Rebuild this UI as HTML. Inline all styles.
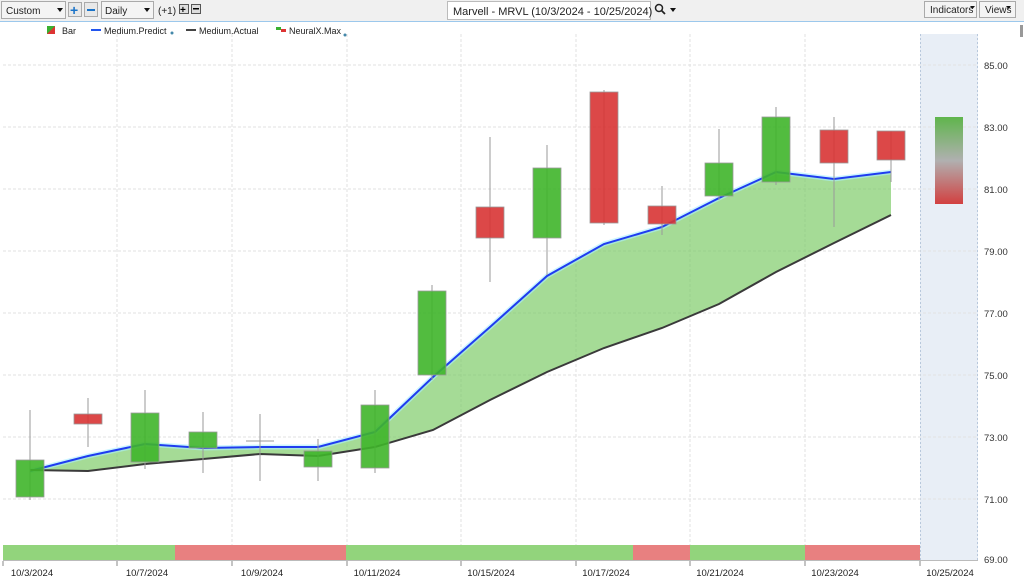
<!DOCTYPE html>
<html><head><meta charset="utf-8"><style>
body{margin:0;width:1024px;height:583px;overflow:hidden;background:#fff;font-family:"Liberation Sans",sans-serif}
</style></head><body>
<svg width="1024" height="583" xmlns="http://www.w3.org/2000/svg" font-family="Liberation Sans, sans-serif">
<rect x="0" y="0" width="1024" height="21" fill="#f0f0f0"/>
<line x1="0" y1="21.5" x2="1024" y2="21.5" stroke="#9cc8ec" stroke-width="1"/>
<rect x="1.5" y="1.5" width="64" height="17" fill="#f4f4f4" stroke="#aaa"/>
<text x="6" y="14" font-size="10" fill="#222">Custom</text><path d="M57 8h6l-3 4z" fill="#111"/>
<rect x="68.5" y="2.5" width="13" height="14" fill="#e8e8e8" stroke="#aaa"/><text x="70" y="15" font-size="14" font-weight="bold" fill="#1a73c8">+</text>
<rect x="84.5" y="2.5" width="13" height="14" fill="#e8e8e8" stroke="#aaa"/><rect x="87" y="9" width="8" height="2" fill="#1a73c8"/>
<rect x="101.5" y="1.5" width="52" height="17" fill="#f4f4f4" stroke="#aaa"/>
<text x="105" y="14" font-size="10" fill="#222">Daily</text><path d="M144 8h6l-3 4z" fill="#111"/>
<text x="158" y="14" font-size="10" fill="#222">(+1)</text>
<rect x="179.5" y="4.5" width="9" height="9" fill="#ddd" stroke="#555"/><text x="180" y="13" font-size="10" font-weight="bold">+</text>
<rect x="191.5" y="4.5" width="9" height="9" fill="#ddd" stroke="#555"/><rect x="193" y="8" width="6" height="1.5" fill="#000"/>
<rect x="447.5" y="1.5" width="203" height="18" fill="#fff" stroke="#bbb"/>
<text x="453" y="15" font-size="11" fill="#222">Marvell - MRVL (10/3/2024 - 10/25/2024)</text>
<circle cx="659" cy="8" r="3.5" fill="none" stroke="#222" stroke-width="1.5"/><line x1="661.5" y1="10.5" x2="665" y2="14" stroke="#222" stroke-width="1.8"/>
<path d="M670 8h6l-3 4z" fill="#111"/>
<rect x="924.5" y="1.5" width="52" height="16" fill="#f4f4f4" stroke="#aaa"/><text x="930" y="13" font-size="10" fill="#222">Indicators</text><path d="M970 6h5l-2.5 3z" fill="#111"/>
<rect x="979.5" y="1.5" width="36" height="16" fill="#f4f4f4" stroke="#aaa"/><text x="985" y="13" font-size="10" fill="#222">Views</text><path d="M1006 6h5l-2.5 3z" fill="#111"/>
<rect x="1020" y="25" width="3" height="12" fill="#999"/>
<path d="M47 26h8v8h-8z" fill="#3ab030"/><path d="M55 26v8h-8z" fill="#d33"/>
<text x="62" y="34" font-size="9" fill="#222">Bar</text>
<rect x="91" y="29" width="10" height="2" fill="#2255ee"/><text x="104" y="34" font-size="9" fill="#222">Medium.Predict</text><circle cx="172" cy="33" r="1.5" fill="#48a"/>
<rect x="186" y="29" width="10" height="2" fill="#444"/><text x="199" y="34" font-size="9" fill="#222">Medium.Actual</text>
<path d="M276 27h5v3h-5z" fill="#3ab030"/><path d="M281 29h5v3h-5z" fill="#d33"/><text x="289" y="34" font-size="9" fill="#222">NeuralX.Max</text><circle cx="345" cy="35" r="1.5" fill="#48a"/>
<rect x="920" y="34" width="58" height="526" fill="#e8eef6"/>
<line x1="920.5" y1="34" x2="920.5" y2="560" stroke="#b8c8dc" stroke-dasharray="2,2"/>
<line x1="977.5" y1="34" x2="977.5" y2="560" stroke="#b8c8dc" stroke-dasharray="2,2"/>
<g stroke="#e2e2e2" stroke-dasharray="3,2">
<line x1="3" x2="978" y1="65" y2="65"/><line x1="3" x2="978" y1="127" y2="127"/><line x1="3" x2="978" y1="189" y2="189"/><line x1="3" x2="978" y1="251" y2="251"/><line x1="3" x2="978" y1="313" y2="313"/><line x1="3" x2="978" y1="375" y2="375"/><line x1="3" x2="978" y1="437" y2="437"/><line x1="3" x2="978" y1="499" y2="499"/>
<line y1="34" y2="560" x1="117" x2="117"/><line y1="34" y2="560" x1="232" x2="232"/><line y1="34" y2="560" x1="347" x2="347"/><line y1="34" y2="560" x1="461" x2="461"/><line y1="34" y2="560" x1="576" x2="576"/><line y1="34" y2="560" x1="690" x2="690"/><line y1="34" y2="560" x1="805" x2="805"/>
</g>
<g font-size="9.5" fill="#333">
<text x="984" y="69">85.00</text><text x="984" y="131">83.00</text><text x="984" y="193">81.00</text><text x="984" y="255">79.00</text><text x="984" y="317">77.00</text><text x="984" y="379">75.00</text><text x="984" y="441">73.00</text><text x="984" y="503">71.00</text><text x="984" y="563">69.00</text>
</g>
<path d="M30 471L88 456L145 444L203 448L260 447L318 447L375 432L433 377L490 327L547 276L604 244L662 227L719 198L776 172L834 179L891 172L891 215L834 243L776 272L719 304L662 328L604 348L547 372L490 400L433 430L375 447L318 456L260 454L203 459L145 464L88 471Z" fill="#7fcc6a" fill-opacity="0.7"/>
<polyline points="30,471 88,456 145,444 203,448 260,447 318,447 375,432 433,377 490,327 547,276 604,244 662,227 719,198 776,172 834,179 891,172" fill="none" stroke="#aef" stroke-width="5" stroke-opacity="0.6"/>
<polyline points="30,471 88,456 145,444 203,448 260,447 318,447 375,432 433,377 490,327 547,276 604,244 662,227 719,198 776,172 834,179 891,172" fill="none" stroke="#1f3cf0" stroke-width="2"/>
<polyline points="30,470 88,471 145,464 203,459 260,454 318,456 375,447 433,430 490,400 547,372 604,348 662,328 719,304 776,272 834,243 891,215" fill="none" stroke="#3a3a3a" stroke-width="2"/>
<g stroke="#999" stroke-width="1">
<line x1="30" x2="30" y1="410" y2="500"/><line x1="88" x2="88" y1="398" y2="447"/><line x1="145" x2="145" y1="390" y2="469"/><line x1="203" x2="203" y1="412" y2="473"/><line x1="260" x2="260" y1="414" y2="481"/><line x1="318" x2="318" y1="439" y2="481"/><line x1="375" x2="375" y1="390" y2="473"/><line x1="432" x2="432" y1="285" y2="380"/><line x1="490" x2="490" y1="137" y2="282"/><line x1="547" x2="547" y1="145" y2="275"/><line x1="604" x2="604" y1="90" y2="225"/><line x1="662" x2="662" y1="186" y2="235"/><line x1="719" x2="719" y1="129" y2="200"/><line x1="776" x2="776" y1="107" y2="185"/><line x1="834" x2="834" y1="117" y2="227"/><line x1="891" x2="891" y1="131" y2="182"/>
</g>
<line x1="246" x2="274" y1="441" y2="441" stroke="#999"/>
<g stroke="#999" stroke-width="0.8" fill-opacity="0.9">
<rect x="16" y="460" width="28" height="37" fill="#3fb52a"/>
<rect x="74" y="414" width="28" height="10" fill="#d83434"/>
<rect x="131" y="413" width="28" height="49" fill="#3fb52a"/>
<rect x="189" y="432" width="28" height="16" fill="#3fb52a"/>
<rect x="304" y="451" width="28" height="16" fill="#3fb52a"/>
<rect x="361" y="405" width="28" height="63" fill="#3fb52a"/>
<rect x="418" y="291" width="28" height="84" fill="#3fb52a"/>
<rect x="476" y="207" width="28" height="31" fill="#d83434"/>
<rect x="533" y="168" width="28" height="70" fill="#3fb52a"/>
<rect x="590" y="92" width="28" height="131" fill="#d83434"/>
<rect x="648" y="206" width="28" height="18" fill="#d83434"/>
<rect x="705" y="163" width="28" height="33" fill="#3fb52a"/>
<rect x="762" y="117" width="28" height="65" fill="#3fb52a"/>
<rect x="820" y="130" width="28" height="33" fill="#d83434"/>
<rect x="877" y="131" width="28" height="29" fill="#d83434"/>
</g>
<defs><linearGradient id="fg" x1="0" y1="0" x2="0" y2="1"><stop offset="0" stop-color="#5fb54c"/><stop offset="0.5" stop-color="#b0b0b0"/><stop offset="1" stop-color="#d24040"/></linearGradient></defs>
<rect x="935" y="117" width="28" height="87" fill="url(#fg)"/>
<rect x="3" y="545" width="172" height="15" fill="#92d47c"/>
<rect x="175" y="545" width="171" height="15" fill="#e88080"/>
<rect x="346" y="545" width="287" height="15" fill="#92d47c"/>
<rect x="633" y="545" width="57" height="15" fill="#e88080"/>
<rect x="690" y="545" width="115" height="15" fill="#92d47c"/>
<rect x="805" y="545" width="115" height="15" fill="#e88080"/>
<line x1="3" y1="560.5" x2="978" y2="560.5" stroke="#bbb"/>
<g stroke="#888"><line x1="3" x2="3" y1="561" y2="566"/><line x1="117" x2="117" y1="561" y2="566"/><line x1="232" x2="232" y1="561" y2="566"/><line x1="347" x2="347" y1="561" y2="566"/><line x1="461" x2="461" y1="561" y2="566"/><line x1="576" x2="576" y1="561" y2="566"/><line x1="690" x2="690" y1="561" y2="566"/><line x1="805" x2="805" y1="561" y2="566"/><line x1="920" x2="920" y1="561" y2="566"/></g>
<g font-size="9.5" fill="#222" text-anchor="middle">
<text x="32" y="576">10/3/2024</text><text x="147" y="576">10/7/2024</text><text x="262" y="576">10/9/2024</text><text x="377" y="576">10/11/2024</text><text x="491" y="576">10/15/2024</text><text x="606" y="576">10/17/2024</text><text x="720" y="576">10/21/2024</text><text x="835" y="576">10/23/2024</text><text x="950" y="576">10/25/2024</text>
</g>
</svg>
</body></html>
